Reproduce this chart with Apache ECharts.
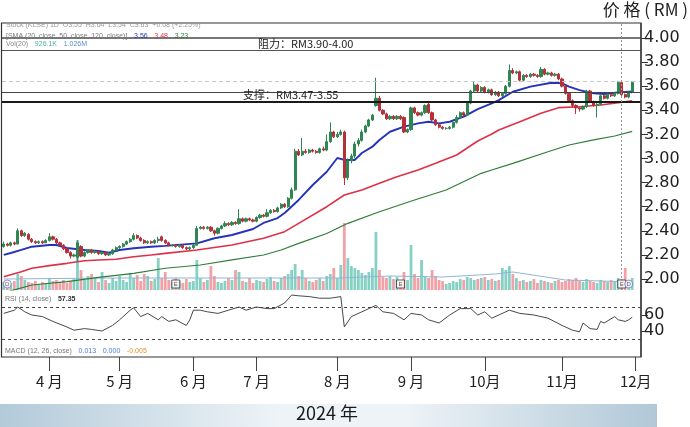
<!DOCTYPE html>
<html><head><meta charset="utf-8">
<script src="https://cdn.jsdelivr.net/npm/echarts@6/dist/echarts.min.js"></script>
<style>html,body{margin:0;padding:0;background:#fff}#c{width:690px;height:427px}</style>
</head><body><div id="c"></div>
<script>
// ---------- DATA ----------
const monthNames = ['3','4','5','6','7','8','9','10','11','12'];
const tradingDays = [13,20,21,18,23,21,21,22,21,2];

// [open, close, low, high]
const candles = [
[2.27,2.29,2.26,2.31],[2.29,2.28,2.27,2.30],[2.28,2.30,2.27,2.31],[2.30,2.29,2.28,2.31],[2.29,2.40,2.29,2.42],
[2.40,2.36,2.35,2.41],[2.36,2.38,2.35,2.39],[2.37,2.33,2.32,2.38],[2.33,2.31,2.30,2.34],[2.31,2.30,2.29,2.32],
[2.30,2.31,2.29,2.32],[2.31,2.30,2.29,2.32],[2.30,2.32,2.30,2.33],[2.32,2.35,2.31,2.38],[2.35,2.33,2.32,2.36],
[2.33,2.30,2.29,2.34],[2.30,2.28,2.27,2.31],[2.28,2.25,2.24,2.29],[2.25,2.22,2.21,2.26],[2.22,2.19,2.17,2.23],
[2.19,2.20,2.18,2.21],[2.18,2.30,2.15,2.32],[2.27,2.19,2.18,2.28],[2.19,2.22,2.18,2.23],[2.22,2.24,2.21,2.25],
[2.24,2.22,2.21,2.25],[2.22,2.23,2.21,2.24],[2.23,2.21,2.20,2.24],[2.21,2.22,2.20,2.23],[2.22,2.20,2.19,2.23],
[2.20,2.21,2.19,2.22],[2.21,2.24,2.20,2.25],[2.24,2.26,2.23,2.27],[2.26,2.27,2.25,2.28],[2.27,2.29,2.26,2.30],
[2.29,2.31,2.28,2.32],[2.31,2.33,2.30,2.34],[2.33,2.36,2.32,2.38],[2.36,2.34,2.33,2.37],[2.34,2.32,2.31,2.35],
[2.32,2.30,2.29,2.33],[2.30,2.31,2.29,2.32],[2.31,2.30,2.29,2.32],[2.30,2.32,2.29,2.33],[2.32,2.33,2.30,2.35],
[2.35,2.32,2.31,2.36],[2.32,2.30,2.29,2.33],[2.30,2.28,2.27,2.31],[2.28,2.28,2.27,2.29],[2.28,2.27,2.26,2.29],
[2.27,2.28,2.26,2.29],[2.28,2.26,2.25,2.29],[2.26,2.25,2.24,2.27],[2.25,2.26,2.24,2.27],[2.26,2.28,2.25,2.29],
[2.28,2.42,2.28,2.44],[2.42,2.43,2.41,2.44],[2.43,2.42,2.41,2.44],[2.42,2.43,2.41,2.44],[2.43,2.40,2.39,2.44],
[2.40,2.38,2.36,2.41],[2.38,2.42,2.37,2.43],[2.42,2.44,2.41,2.45],[2.44,2.46,2.43,2.48],[2.46,2.45,2.44,2.47],
[2.45,2.47,2.44,2.48],[2.47,2.46,2.45,2.48],[2.46,2.50,2.45,2.58],[2.50,2.48,2.47,2.51],[2.48,2.50,2.47,2.51],
[2.50,2.49,2.48,2.51],[2.49,2.48,2.47,2.50],[2.48,2.51,2.47,2.52],[2.51,2.53,2.50,2.54],[2.53,2.52,2.51,2.54],
[2.52,2.55,2.51,2.58],[2.55,2.57,2.54,2.58],[2.57,2.56,2.55,2.58],[2.56,2.59,2.55,2.60],[2.59,2.62,2.58,2.63],
[2.62,2.60,2.59,2.63],[2.60,2.67,2.59,2.68],[2.67,2.74,2.66,2.76],[2.74,3.06,2.73,3.08],[3.06,3.03,3.02,3.08],
[3.03,3.06,3.02,3.17],[3.06,3.05,3.04,3.08],[3.05,3.07,3.04,3.08],[3.07,3.06,3.05,3.08],[3.06,3.05,3.04,3.07],
[3.05,3.08,3.04,3.09],[3.08,3.07,3.06,3.10],[3.07,3.14,3.06,3.20],[3.14,3.22,3.13,3.30],[3.22,3.18,3.17,3.23],
[3.18,3.20,3.17,3.22],[3.20,3.22,3.19,3.24],[3.22,2.84,2.78,3.23],[2.84,2.98,2.82,3.00],[2.98,3.02,2.96,3.04],
[3.02,3.12,3.00,3.14],[3.12,3.15,3.10,3.17],[3.15,3.22,3.14,3.24],[3.22,3.27,3.21,3.28],[3.27,3.32,3.26,3.33],
[3.32,3.36,3.31,3.37],[3.44,3.50,3.43,3.67],[3.50,3.40,3.39,3.52],[3.40,3.37,3.36,3.41],[3.37,3.33,3.32,3.38],
[3.33,3.35,3.32,3.36],[3.35,3.33,3.32,3.36],[3.33,3.35,3.32,3.36],[3.35,3.33,3.32,3.36],[3.34,3.22,3.21,3.35],
[3.22,3.24,3.21,3.25],[3.24,3.42,3.23,3.43],[3.42,3.38,3.37,3.43],[3.38,3.36,3.35,3.39],[3.36,3.38,3.35,3.39],
[3.38,3.44,3.37,3.45],[3.45,3.38,3.37,3.47],[3.38,3.32,3.31,3.39],[3.32,3.28,3.27,3.33],[3.28,3.26,3.25,3.29],
[3.26,3.25,3.24,3.27],[3.25,3.25,3.24,3.26],[3.25,3.26,3.24,3.27],[3.26,3.30,3.25,3.31],[3.30,3.34,3.29,3.36],
[3.34,3.38,3.33,3.39],[3.38,3.36,3.35,3.39],[3.36,3.46,3.35,3.47],[3.46,3.56,3.45,3.57],[3.56,3.61,3.55,3.64],
[3.61,3.56,3.55,3.62],[3.56,3.59,3.55,3.60],[3.59,3.55,3.54,3.60],[3.55,3.57,3.54,3.58],[3.57,3.53,3.52,3.58],
[3.53,3.55,3.52,3.56],[3.55,3.52,3.51,3.56],[3.52,3.54,3.51,3.55],[3.54,3.60,3.53,3.61],[3.60,3.73,3.59,3.78],
[3.73,3.71,3.70,3.75],[3.71,3.72,3.70,3.73],[3.72,3.65,3.64,3.73],[3.65,3.69,3.64,3.70],[3.69,3.68,3.67,3.70],
[3.68,3.70,3.67,3.71],[3.70,3.69,3.68,3.71],[3.69,3.68,3.67,3.70],[3.68,3.74,3.67,3.76],[3.74,3.70,3.69,3.75],
[3.70,3.71,3.69,3.72],[3.71,3.69,3.68,3.72],[3.69,3.70,3.68,3.71],[3.70,3.66,3.65,3.71],[3.66,3.60,3.59,3.67],
[3.60,3.54,3.53,3.61],[3.54,3.48,3.47,3.55],[3.48,3.44,3.42,3.49],[3.44,3.42,3.37,3.45],[3.42,3.41,3.39,3.43],
[3.41,3.43,3.40,3.44],[3.43,3.56,3.42,3.57],[3.56,3.47,3.46,3.57],[3.47,3.44,3.43,3.48],[3.44,3.45,3.34,3.46],
[3.45,3.52,3.44,3.53],[3.52,3.50,3.49,3.53],[3.50,3.53,3.49,3.54],[3.53,3.52,3.51,3.54],[3.52,3.54,3.51,3.55],
[3.54,3.63,3.53,3.64],[3.63,3.53,3.52,3.64],[3.53,3.51,3.50,3.54],[3.51,3.55,3.50,3.56],[3.55,3.63,3.54,3.64]
];

const volumes = [
8,6,7,9,16,14,10,8,7,9,6,8,7,
12,9,10,8,10,7,9,11,50,20,
10,14,16,12,8,18,10,7,12,9,14,
10,8,17,12,15,9,16,14,9,11,32,12,
18,10,8,12,9,7,11,8,9,
30,12,8,10,24,14,8,7,9,12,10,20,
18,9,8,12,7,10,9,8,11,13,9,8,12,14,16,20,
26,
14,20,12,9,8,10,12,9,14,16,22,12,25,
67,
32,24,22,20,17,15,18,22,
58,
20,13,12,14,11,13,9,18,10,
45,16,12,30,14,12,
20,14,10,9,6,7,9,8,11,10,
13,12,10,11,12,13,10,11,9,10,22,
20,24,16,12,
9,10,8,9,11,7,10,9,8,7,9,10,8,
9,11,10,12,9,8,11,9,8,7,10,
9,8,10,9,12,11,22,10,12
];
const volumeMA = [[0,11],[30,12],[60,12],[95,12],[110,14],[125,13],[140,16],[145,18],[160,10],[170,9],[179,8]];

// SMA lines: [index, price]
const sma20 = [[0,2.20],[2,2.216],[5,2.241],[8,2.268],[13,2.282],[15,2.282],[18,2.257],[23,2.241],[27,2.232],[30,2.218],[33,2.241],[37,2.255],[42,2.268],[46,2.275],[55,2.296],[60,2.338],[65,2.365],[71,2.415],[74,2.465],[78,2.506],[80,2.548],[84,2.656],[88,2.78],[92,2.89],[95,3.004],[97,2.988],[100,2.988],[102,3.046],[105,3.098],[107,3.154],[110,3.222],[114,3.264],[118,3.292],[121,3.305],[124,3.292],[127,3.305],[131,3.347],[135,3.41],[139,3.458],[141,3.485],[145,3.554],[150,3.596],[156,3.629],[159,3.624],[161,3.596],[164,3.568],[168,3.541],[171,3.535],[175,3.549],[179,3.556]];
const sma50 = [[0,2.019],[5,2.061],[8,2.089],[13,2.111],[18,2.130],[23,2.152],[27,2.158],[32,2.164],[37,2.185],[42,2.199],[46,2.213],[55,2.241],[65,2.282],[74,2.338],[80,2.393],[84,2.462],[92,2.600],[97,2.697],[102,2.739],[107,2.794],[112,2.849],[118,2.905],[123,2.960],[129,3.029],[135,3.145],[139,3.203],[141,3.237],[147,3.305],[153,3.375],[158,3.422],[164,3.430],[170,3.444],[179,3.478]];
const sma120 = [[0,1.885],[3,1.91],[8,1.950],[18,1.978],[27,2.014],[37,2.047],[46,2.089],[56,2.116],[65,2.158],[74,2.199],[79,2.241],[84,2.296],[92,2.378],[98,2.462],[107,2.558],[117,2.656],[126,2.739],[136,2.877],[139,2.905],[145,2.960],[155,3.056],[161,3.112],[168,3.154],[174,3.187],[179,3.225]];

const rsiPts = [[0,62],[3,66],[4,70],[6,64],[8,60],[11,58],[14,52],[18,45],[20,41],[23,43],[25,42],[28,40],[31,47],[33,54],[36,66],[37,69],[39,58],[41,62],[44,54],[45,58],[47,52],[49,54],[52,47],[53,54],[54,66],[56,66],[58,64],[61,62],[64,66],[67,70],[69,66],[72,70],[75,68],[77,68],[80,75],[82,85],[84,84],[87,83],[90,81],[93,81],[96,83],[97,45],[99,58],[102,64],[104,68],[106,72],[108,64],[111,62],[114,54],[116,62],[119,60],[121,54],[124,50],[127,60],[130,68],[133,68],[135,60],[137,64],[139,56],[144,66],[147,62],[151,60],[155,56],[159,47],[162,41],[164,39],[165,50],[167,43],[169,42],[170,52],[171,50],[174,58],[175,54],[177,52],[178,54],[179,57.35]];

const priceTicks = [2.0,2.2,2.4,2.6,2.8,3.0,3.2,3.4,3.6,3.8,4.0];
const rsiTicks = [40,60];
const resistance = [3.90, 4.00];
const support = [3.47, 3.55];
const lastPriceLine = 3.64;
const eventMarks = [[1,'D'],[49,'E'],[113,'E'],[176,'E'],[178,'D']];

// ---------- BUILD ----------
const categories = [];
monthNames.forEach((m, k) => { for (let d = 1; d <= tradingDays[k]; d++) categories.push(m + '-' + d); });
const isMonthStart = (idx, val) => { const p = String(val).split('-'); return p[1] === '1' && p[0] !== '3'; };
const monthLabel = v => { const m = String(v).split('-')[0]; return m.length === 1 ? m + ' 月' : m + '月'; };

const UP = '#2f8652', DOWN = '#b3323a';
const volData = volumes.map((v, i) => ({ value: v, itemStyle: { color: candles[i][1] >= candles[i][0] ? '#86d0c4' : '#f2a2a6' } }));

const chart = echarts.init(document.getElementById('c'), null, { renderer: 'canvas' });
const grids = [
  { left: 2, right: 49, top: 23, height: 267 },
  { left: 2, right: 49, top: 222, height: 68 },
  { left: 2, right: 49, top: 293, height: 50 }
];
const labelFont = { fontSize: 16, fontFamily: 'DejaVu Sans', color: '#222' };

chart.setOption({
  animation: false,
  backgroundColor: '#fff',
  grid: grids,
  xAxis: [
    { gridIndex: 0, type: 'category', data: categories, show: false, boundaryGap: true },
    { gridIndex: 1, type: 'category', data: categories, show: false, boundaryGap: true },
    { gridIndex: 2, type: 'category', data: categories, boundaryGap: true, position: 'bottom', offset: 14,
      axisLine: { show: false },
      axisTick: { show: true, length: 14, alignWithLabel: true, interval: isMonthStart, lineStyle: { color: '#444', width: 1 } },
      axisLabel: { interval: isMonthStart, formatter: monthLabel, margin: 17, fontSize: 15, fontFamily: 'Noto Sans CJK SC', color: '#222' },
      splitLine: { show: false } }
  ],
  yAxis: [
    { gridIndex: 0, type: 'value', position: 'right', min: 1.9087, max: 4.1245,
      splitLine: { show: false }, axisLine: { show: false },
      axisTick: { show: true, length: 7, customValues: priceTicks, lineStyle: { color: '#333' } },
      axisLabel: Object.assign({ customValues: priceTicks, margin: 3, formatter: v => Number(v).toFixed(2) }, labelFont) },
    { gridIndex: 1, type: 'value', min: 0, max: 68, show: false },
    { gridIndex: 2, type: 'value', position: 'right', min: 25, max: 87.5,
      splitLine: { show: false }, axisLine: { show: false },
      axisTick: { show: true, length: 7, customValues: rsiTicks, lineStyle: { color: '#333' } },
      axisLabel: Object.assign({ customValues: rsiTicks, margin: 3 }, labelFont) }
  ],
  series: [
    { type: 'bar', xAxisIndex: 1, yAxisIndex: 1, data: volData, barWidth: '80%', silent: true, z: 1 },
    { type: 'line', xAxisIndex: 1, yAxisIndex: 1, data: volumeMA, symbol: 'none', lineStyle: { color: '#8fb6d6', width: 1 }, z: 2 },
    { type: 'scatter', xAxisIndex: 1, yAxisIndex: 1, z: 6,
      data: eventMarks.map(e => ({ value: [e[0], 6], name: e[1],
        symbol: e[1] === 'E' ? 'rect' : 'circle',
        itemStyle: { color: '#fff', borderColor: e[1] === 'E' ? '#333' : '#7b72c8', borderWidth: 1 } })),
      symbolSize: 8,
      label: { show: true, position: 'inside', formatter: p => p.name, fontSize: 6, color: '#333', fontFamily: 'Liberation Sans' } },
    { type: 'line', xAxisIndex: 0, yAxisIndex: 0, data: sma120, symbol: 'none', lineStyle: { color: '#2f7d3c', width: 1.2 }, z: 3 },
    { type: 'line', xAxisIndex: 0, yAxisIndex: 0, data: sma50, symbol: 'none', lineStyle: { color: '#dc3147', width: 1.6 }, z: 3 },
    { type: 'line', xAxisIndex: 0, yAxisIndex: 0, data: sma20, symbol: 'none', lineStyle: { color: '#2433b8', width: 1.9 }, z: 3 },
    { type: 'candlestick', xAxisIndex: 0, yAxisIndex: 0, data: candles.map(c => [c[0], c[1], c[2], c[3]]), barWidth: 2.7, z: 4,
      itemStyle: { color: UP, color0: DOWN, borderColor: UP, borderColor0: DOWN, borderWidth: 1 },
      markLine: { silent: true, symbol: 'none', label: { show: false },
        data: [
          { yAxis: resistance[1], lineStyle: { color: '#777', width: 1.8, type: 'solid' } },
          { yAxis: resistance[0], lineStyle: { color: '#555', width: 1, type: 'solid' } },
          { yAxis: lastPriceLine, lineStyle: { color: '#c9c9c9', width: 1, type: [4, 3] } },
          { yAxis: support[1], lineStyle: { color: '#444', width: 1, type: 'solid' } },
          { yAxis: support[0], lineStyle: { color: '#1a1a1a', width: 2, type: 'solid' } },
          { xAxis: categories[176], lineStyle: { color: '#999', width: 1, type: [2, 2] } }
        ] } },
    { type: 'line', xAxisIndex: 2, yAxisIndex: 2, data: rsiPts, symbol: 'none', lineStyle: { color: '#333', width: 0.9 }, z: 3,
      markLine: { silent: true, symbol: 'none', label: { show: false },
        data: [{ yAxis: 70 }, { yAxis: 30 }], lineStyle: { color: '#444', width: 1, type: [3, 3] } } }
  ],
  graphic: [
    { type: 'rect', shape: { x: 1.5, y: 23, width: 639.5, height: 334 }, style: { fill: 'none', stroke: '#333', lineWidth: 1.2 }, z: 10 },
    { type: 'line', shape: { x1: 641, y1: 23, x2: 641, y2: 357 }, style: { stroke: '#444', lineWidth: 1.5 }, z: 10 },
    { type: 'text', left: 6, top: 22, z: 11, style: { text: 'Stock (KLSE) 1D  O3.55  H3.64  L3.54  C3.63  +0.08 (+2.25%)', font: '7px "Liberation Sans"', fill: '#999' } },
    { type: 'text', left: 6, top: 30, z: 11, style: { text: '{a|[SMA (20, close, 50, close, 120, close)]}  {b|3.56}  {c|3.48}  {d|3.23}',
      rich: { a: { font: '7px "Liberation Sans"', fill: '#777' }, b: { font: '7px "Liberation Sans"', fill: '#2433b8' }, c: { font: '7px "Liberation Sans"', fill: '#dc3147' }, d: { font: '7px "Liberation Sans"', fill: '#2f7d3c' } } } },
    { type: 'text', left: 6, top: 38, z: 11, style: { text: '{a|Vol(20)}  {b|926.1K}  {c|1.026M}',
      rich: { a: { font: '7px "Liberation Sans"', fill: '#888' }, b: { font: '7px "Liberation Sans"', fill: '#4cb3a3' }, c: { font: '7px "Liberation Sans"', fill: '#5b8fc8' } } } },
    { type: 'text', left: 5, top: 293, z: 11, style: { text: '{a|RSI (14, close)}  {b|57.35}',
      rich: { a: { font: '7px "Liberation Sans"', fill: '#777' }, b: { font: 'bold 7px "Liberation Sans"', fill: '#333' } } } },
    { type: 'text', left: 5, top: 345, z: 11, style: { text: '{a|MACD (12, 26, close)}  {b|0.013}  {c|0.000}  {d|-0.005}',
      rich: { a: { font: '7px "Liberation Sans"', fill: '#777' }, b: { font: '7px "Liberation Sans"', fill: '#4a7fd0' }, c: { font: '7px "Liberation Sans"', fill: '#4a7fd0' }, d: { font: '7px "Liberation Sans"', fill: '#e8902c' } } } },
    { type: 'text', left: 258, top: 38, z: 11, style: { text: '阻力：RM3.90-4.00', font: '11px "Noto Sans CJK SC"', fill: '#222' } },
    { type: 'text', left: 243, top: 89.5, z: 11, style: { text: '支撑：RM3.47-3.55', font: '11px "Noto Sans CJK SC"', fill: '#222' } },
    { type: 'text', right: 2, top: 1, z: 11, style: { text: '价 格 ( RM )', font: '17px "Noto Sans CJK SC"', fill: '#222' } },
    { type: 'rect', shape: { x: 0, y: 404, width: 657, height: 23 }, z: 0,
      style: { fill: new echarts.graphic.LinearGradient(0, 0, 1, 0, [
        { offset: 0, color: '#b3cad9' }, { offset: 0.42, color: '#edf3f7' }, { offset: 0.62, color: '#edf3f7' }, { offset: 1, color: '#b1c8d7' }]) } },
    { type: 'text', left: 296, top: 404, z: 11, style: { text: '2024 年', font: '18px "Noto Sans CJK SC"', fill: '#1a1a1a' } }
  ]
});
</script></body></html>
